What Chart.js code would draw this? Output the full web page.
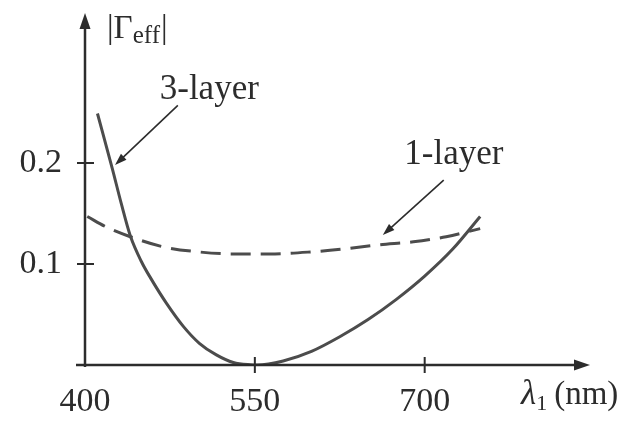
<!DOCTYPE html>
<html>
<head>
<meta charset="utf-8">
<script src="https://cdn.jsdelivr.net/npm/chart.js@4.4.1/dist/chart.umd.min.js"></script>
<style>
  html, body { margin: 0; padding: 0; background: #fff; }
  #wrap { width: 624px; height: 427px; }
</style>
</head>
<body>
<div id="wrap"><canvas id="chart" width="624" height="427"></canvas></div>
<script>
// values
const lambda3 = [411, 424, 432, 440, 450, 458, 472, 487, 501, 516, 531, 546, 552, 575, 600, 625, 650, 675, 700, 725, 749];
const gamma3 = [0.249, 0.195, 0.160, 0.128, 0.102, 0.086, 0.061, 0.038, 0.0215, 0.010, 0.0025, 0.0002, 0.000, 0.004, 0.0135, 0.028, 0.045, 0.065, 0.088, 0.115, 0.147];
const lambda1 = [402, 420, 440, 469, 500, 530, 563, 600, 630, 660, 690, 719, 749];
const gamma1 = [0.147, 0.136, 0.127, 0.117, 0.112, 0.110, 0.110, 0.112, 0.115, 0.119, 0.122, 0.127, 0.135];
const xTicks = [400, 550, 700];
const yTicks = [0.1, 0.2];

const INK = '#2c2c2c';
const LINE = '#4c4c4c';
const FONT = "'Liberation Serif', 'Times New Roman', serif";

function arrowHead(ctx, tx, ty, ang, len, half) {
  ctx.beginPath();
  ctx.moveTo(tx, ty);
  ctx.lineTo(tx - len * Math.cos(ang) + half * Math.sin(ang), ty - len * Math.sin(ang) - half * Math.cos(ang));
  ctx.lineTo(tx - len * Math.cos(ang) - half * Math.sin(ang), ty - len * Math.sin(ang) + half * Math.cos(ang));
  ctx.closePath();
  ctx.fill();
}

function pointer(ctx, x0, y0, x1, y1) {
  const ang = Math.atan2(y1 - y0, x1 - x0);
  ctx.lineWidth = 1.6;
  ctx.beginPath();
  ctx.moveTo(x0, y0);
  ctx.lineTo(x1 - 10 * Math.cos(ang), y1 - 10 * Math.sin(ang));
  ctx.stroke();
  arrowHead(ctx, x1, y1, ang, 12, 4);
}

const decor = {
  id: 'decor',
  afterDraw(chart) {
    const { ctx, chartArea: a, scales: { x, y } } = chart;
    const X = v => x.getPixelForValue(v);
    const Y = v => y.getPixelForValue(v);
    const ox = X(400), oy = Y(0);
    ctx.save();
    ctx.strokeStyle = INK;
    ctx.fillStyle = INK;

    // axes with arrows
    ctx.lineWidth = 2.5;
    ctx.beginPath();
    ctx.moveTo(ox, oy + 2); ctx.lineTo(ox, a.top + 10);
    ctx.moveTo(ox - 9, oy); ctx.lineTo(a.right - 10, oy);
    ctx.stroke();
    arrowHead(ctx, ox, a.top, -Math.PI / 2, 16, 5.5);
    arrowHead(ctx, a.right, oy, 0, 16, 5.5);

    // crossing tick marks
    ctx.lineWidth = 2;
    ctx.beginPath();
    yTicks.forEach(v => { ctx.moveTo(ox - 8, Y(v)); ctx.lineTo(ox + 9, Y(v)); });
    xTicks.slice(1).forEach(v => { ctx.moveTo(X(v), oy - 8); ctx.lineTo(X(v), oy + 8); });
    ctx.stroke();

    // curve labels and pointers
    ctx.font = '35px ' + FONT;
    ctx.textBaseline = 'alphabetic';
    ctx.textAlign = 'left';
    ctx.fillText('3-layer', X(466), Y(0.2634));
    ctx.fillText('1-layer', X(682), Y(0.199));
    pointer(ctx, X(482), Y(0.257), X(426.5), Y(0.198));
    pointer(ctx, X(716.8), Y(0.183), X(663), Y(0.1287));

    // y axis title |Γeff|
    let tx = 107, by = 38;
    ctx.font = '33px ' + FONT;
    ctx.fillText('|\u0393', tx, by);
    tx += ctx.measureText('|\u0393').width;
    ctx.font = '25px ' + FONT;
    ctx.fillText('eff', tx, by + 5);
    tx += ctx.measureText('eff').width + 1;
    ctx.font = '33px ' + FONT;
    ctx.fillText('|', tx, by);

    // x axis title λ1 (nm)
    tx = 521; by = 404;
    ctx.font = 'italic 35px ' + FONT;
    ctx.fillText('\u03bb', tx, by);
    tx += ctx.measureText('\u03bb').width;
    ctx.font = '22px ' + FONT;
    ctx.fillText('1', tx, by + 6);
    tx += ctx.measureText('1').width + 7;
    ctx.font = '33px ' + FONT;
    ctx.fillText('(nm)', tx, by);
    ctx.restore();
  }
};

new Chart(document.getElementById('chart'), {
  type: 'line',
  data: {
    datasets: [
      {
        label: '3-layer',
        data: lambda3.map((v, i) => ({ x: v, y: gamma3[i] })),
        borderColor: LINE,
        borderWidth: 3,
        pointRadius: 0,
        cubicInterpolationMode: 'monotone',
        fill: false
      },
      {
        label: '1-layer',
        data: lambda1.map((v, i) => ({ x: v, y: gamma1[i] })),
        borderColor: LINE,
        borderWidth: 3,
        borderDash: [20, 10],
        pointRadius: 0,
        cubicInterpolationMode: 'monotone',
        fill: false
      }
    ]
  },
  options: {
    responsive: false,
    animation: false,
    layout: { padding: { left: 0, top: 13, right: 34, bottom: 0 } },
    plugins: { legend: { display: false }, tooltip: { enabled: false } },
    scales: {
      x: {
        type: 'linear',
        min: 400,
        max: 846,
        grid: { display: false, drawTicks: false },
        border: { display: false },
        afterBuildTicks: s => { s.ticks = xTicks.map(v => ({ value: v })); },
        afterFit: s => { s.height = 62; s.paddingLeft = 0; s.paddingRight = 0; },
        ticks: {
          autoSkip: false, maxRotation: 0, padding: 17, color: INK,
          font: { family: FONT, size: 34 },
          callback: v => String(v)
        }
      },
      y: {
        type: 'linear',
        min: 0,
        max: 0.3485,
        grid: { display: false, drawTicks: false },
        border: { display: false },
        afterBuildTicks: s => { s.ticks = yTicks.map(v => ({ value: v })); },
        afterFit: s => { s.width = 85; s.paddingTop = 0; s.paddingBottom = 0; },
        ticks: {
          autoSkip: false, padding: 23, color: INK,
          font: { family: FONT, size: 34 },
          callback: v => v.toFixed(1)
        }
      }
    }
  },
  plugins: [decor]
});
</script>
</body>
</html>
